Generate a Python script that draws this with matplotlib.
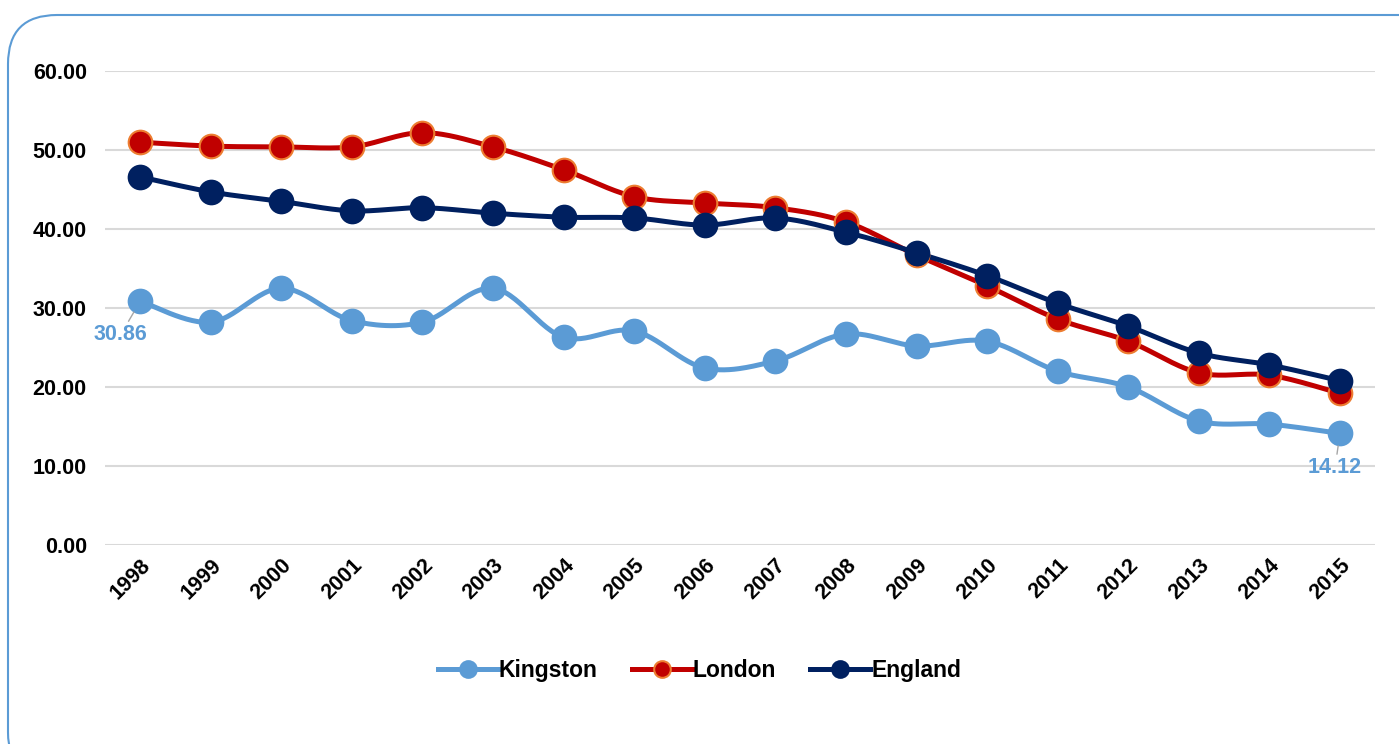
import numpy as np
import matplotlib
matplotlib.use("Agg")
import matplotlib.pyplot as plt
from matplotlib.patches import FancyBboxPatch

plt.rcParams["font.family"] = ["Liberation Sans", "DejaVu Sans"]

# Data
years = [str(y) for y in range(1998, 2016)]
kingston = [30.86, 28.2, 32.5, 28.4, 28.2, 32.5, 26.3, 27.1, 22.4, 23.3,
            26.7, 25.2, 25.8, 22.0, 20.0, 15.7, 15.3, 14.12]
london = [51.0, 50.5, 50.4, 50.4, 52.2, 50.4, 47.5, 44.1, 43.3, 42.7,
          40.9, 36.7, 32.8, 28.6, 25.8, 21.8, 21.5, 19.2]
england = [46.6, 44.7, 43.5, 42.3, 42.7, 42.0, 41.5, 41.4, 40.5, 41.4,
           39.6, 37.0, 34.1, 30.6, 27.7, 24.3, 22.8, 20.8]
yticks = [0, 10, 20, 30, 40, 50, 60]

KING_C = "#5B9BD5"
LON_C = "#C00000"
LON_EDGE = "#ED7D31"
ENG_C = "#002060"


def smooth(x, y, n=30):
    # Catmull-Rom style smoothing, like spreadsheet "smoothed line"
    x = np.asarray(x, float)
    y = np.asarray(y, float)
    px = np.concatenate([[x[0]], x, [x[-1]]])
    py = np.concatenate([[y[0]], y, [y[-1]]])
    xs, ys = [], []
    t = np.linspace(0, 1, n)
    for i in range(1, len(px) - 2):
        p0 = np.array([px[i], py[i]])
        p3 = np.array([px[i + 1], py[i + 1]])
        c1 = p0 + (np.array([px[i + 1], py[i + 1]]) - np.array([px[i - 1], py[i - 1]])) / 6
        c2 = p3 - (np.array([px[i + 2], py[i + 2]]) - np.array([px[i], py[i]])) / 6
        b = ((1 - t) ** 3)[:, None] * p0 + (3 * (1 - t) ** 2 * t)[:, None] * c1 \
            + (3 * (1 - t) * t ** 2)[:, None] * c2 + (t ** 3)[:, None] * p3
        xs.extend(b[:, 0])
        ys.extend(b[:, 1])
    return xs, ys


fig = plt.figure(figsize=(13.99, 7.44), dpi=100)
ax = fig.add_axes([0.075, 0.2675, 0.908, 0.637])

x = np.arange(len(years))
series = [
    ("Kingston", kingston, KING_C, KING_C),
    ("London", london, LON_C, LON_EDGE),
    ("England", england, ENG_C, ENG_C),
]
for name, vals, col, edge in series:
    sx, sy = smooth(x, vals)
    ax.plot(sx, sy, color=col, lw=3.6, solid_capstyle="round", zorder=3)
    ax.plot(x, vals, ls="none", marker="o", ms=17, mfc=col, mec=edge,
            mew=1.5, zorder=4)

# legend handles
handles = [
    plt.Line2D([], [], color=c, lw=3.6, marker="o", ms=12, mfc=c, mec=e, mew=1.5)
    for _, _, c, e in series
]
fig.legend(handles, [s[0] for s in series], loc="center",
           bbox_to_anchor=(0.5, 0.099), ncol=3, frameon=False,
           handlelength=2.6, handletextpad=0.05, columnspacing=1.5,
           prop={"weight": "bold", "size": 16.5})

# data labels
ax.annotate("30.86", xy=(x[0], kingston[0]), xytext=(-14, -24),
            textcoords="offset points", ha="center", va="center",
            color=KING_C, fontsize=15.5, fontweight="bold",
            arrowprops=dict(arrowstyle="-", color="#A6A6A6", lw=1,
                            shrinkA=0, shrinkB=9), zorder=5)
ax.annotate("14.12", xy=(x[-1], kingston[-1]), xytext=(-3.5, -24.5),
            textcoords="offset points", ha="center", va="center",
            color=KING_C, fontsize=15.5, fontweight="bold",
            arrowprops=dict(arrowstyle="-", color="#A6A6A6", lw=1,
                            shrinkA=0, shrinkB=9), zorder=5)

ax.set_xlim(-0.5, len(years) - 0.5)
ax.set_ylim(0, 60)
ax.set_yticks(yticks)
ax.set_yticklabels([f"{v:.2f}" for v in yticks], fontsize=15.5, fontweight="bold")
ax.set_xticks(x)
ax.set_xticklabels(years, rotation=45, ha="right", rotation_mode="anchor",
                   fontsize=15.5, fontweight="bold")
ax.tick_params(length=0)
ax.tick_params(axis="y", pad=13)
ax.tick_params(axis="x", pad=7)
ax.grid(axis="y", color="#D9D9D9", lw=1.5)
ax.set_axisbelow(True)
for s in ax.spines.values():
    s.set_visible(False)

# rounded border
border = FancyBboxPatch((8 / 1399, -0.05), 1.05, 1 - 15 / 744 + 0.05,
                        boxstyle="round,pad=0,rounding_size=0.035",
                        transform=fig.transFigure, fill=False,
                        ec=KING_C, lw=1.5, mutation_aspect=1399 / 744)
fig.patches.append(border)

fig.savefig("out.png", dpi=100)
